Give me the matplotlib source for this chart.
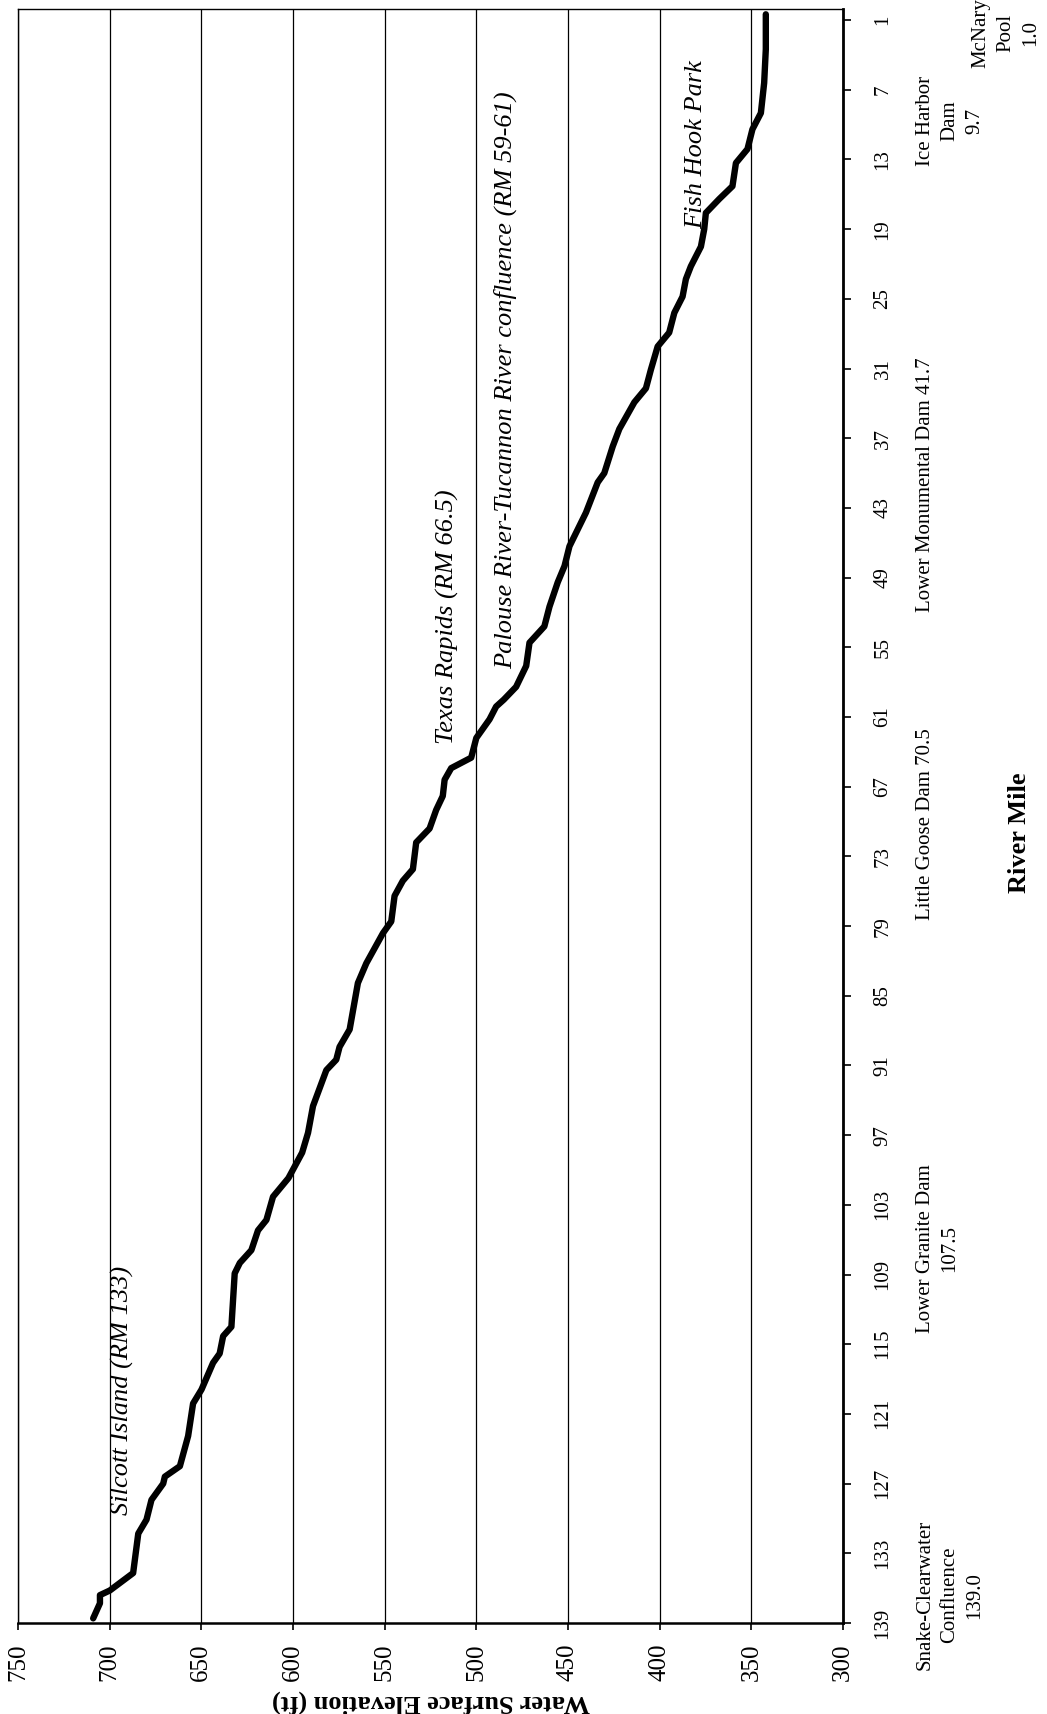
import matplotlib.pyplot as plt

plt.rcParams['font.family'] = ['Liberation Serif', 'DejaVu Serif']

# water surface profile
river_mile = [0.5, 3.5, 6.4, 9.0, 10.4, 12.1, 13.3, 15.3, 16.4, 17.6, 19.0, 20.5,
              22.2, 23.3, 24.8, 26.2, 27.9, 29.1, 31.1, 32.7, 33.9, 36.2, 37.7,
              40.0, 40.8, 43.4, 46.3, 48.0, 49.4, 51.5, 53.2, 54.6, 56.6, 58.4,
              59.5, 60.1, 61.2, 62.8, 64.5, 65.4, 66.4, 67.8, 69.0, 70.6, 71.8,
              74.1, 75.1, 76.4, 78.6, 79.6, 82.2, 83.9, 87.9, 89.4, 90.5, 91.4,
              94.5, 96.8, 98.5, 100.7, 102.3, 104.3, 105.2, 106.9, 108.0, 108.9,
              113.5, 114.3, 115.8, 116.6, 118.9, 120.1, 122.9, 125.5, 126.4, 127.0,
              128.4, 130.1, 131.3, 134.7, 136.2, 136.6, 137.3, 138.6]
elevation = [342.1, 342.1, 343.0, 344.8, 349.4, 352.1, 358.4, 360.3, 367.5, 374.8, 375.7, 377.5,
             383.0, 385.7, 387.5, 392.0, 394.8, 401.1, 404.8, 407.5, 413.8, 422.0, 425.6,
             430.2, 433.8, 440.2, 449.2, 451.9, 455.6, 460.1, 462.9, 471.0, 472.8, 478.3,
             485.0, 489.2, 492.8, 500.0, 502.8, 513.7, 517.3, 518.3, 521.9, 525.5, 532.8,
             534.6, 540.1, 544.6, 546.4, 550.9, 560.0, 564.6, 569.1, 574.6, 576.4, 581.8,
             589.1, 591.8, 595.0, 602.5, 610.9, 614.5, 619.1, 622.7, 629.0, 631.8,
             633.6, 638.1, 640.0, 643.6, 649.9, 654.5, 657.2, 661.7, 669.9, 670.8,
             677.2, 679.9, 684.4, 687.2, 699.9, 705.3, 705.3, 709.0]

elev_ticks = list(range(300, 751, 50))
mile_ticks = list(range(1, 140, 6))

sites = ["Silcott Island (RM 133)", "Texas Rapids (RM 66.5)",
         "Palouse River-Tucannon River confluence (RM 59-61)", "Fish Hook Park"]
site_elev = [693, 515.5, 484.2, 380.3]
site_mile = [129.7, 63.3, 56.9, 19.0]

dams = ["McNary\nPool\n1.0", "Ice Harbor\nDam\n9.7", "Lower Monumental Dam 41.7",
        "Little Goose Dam 70.5", "Lower Granite Dam\n107.5",
        "Snake-Clearwater\nConfluence\n139.0"]
dam_mile = [2.1, 9.7, 41.0, 70.2, 106.8, 136.6]

fig = plt.figure(figsize=(10.47, 17.14), dpi=100)
ax = fig.add_axes([18 / 1047, 1 - 1623 / 1714, 825 / 1047, (1623 - 8.5) / 1714])

ax.plot(elevation, river_mile, color='black', lw=4.6,
        solid_capstyle='round', solid_joinstyle='round')

ax.set_xlim(750, 300)
ax.set_ylim(139, 0)
ax.set_xticks(elev_ticks)
ax.set_yticks(mile_ticks)
ax.grid(axis='x', color='black', lw=0.9)
ax.yaxis.tick_right()
ax.tick_params(axis='x', direction='out', length=5, width=1.2, labelsize=18, pad=10)
ax.tick_params(axis='y', direction='out', length=6, width=1.2, labelsize=15, pad=16)
for lab in ax.get_xticklabels():
    lab.set_rotation(90)
    lab.set_rotation_mode('default')
    lab.set_ha('center')
    lab.set_va('top')
for lab in ax.get_yticklabels():
    lab.set_rotation(90)
    lab.set_rotation_mode('default')
    lab.set_ha('left')
    lab.set_va('center')

ax.spines['right'].set_linewidth(2.0)
ax.spines['bottom'].set_linewidth(1.8)
ax.spines['left'].set_linewidth(1.0)
ax.spines['top'].set_linewidth(1.0)

for name, e, m in zip(sites, site_elev, site_mile):
    ax.text(e, m, name, rotation=90, style='italic', fontsize=19,
            ha='center', va='bottom')

trans = ax.get_yaxis_transform()
for i, (name, m) in enumerate(zip(dams, dam_mile)):
    xpos = 1.156 if i == 0 else 1.088
    ax.text(xpos, m, name, transform=trans, rotation=90, fontsize=15,
            ha='left', va='center', multialignment='center', linespacing=1.42)

ax.text(1.214, 71, "River Mile", transform=trans, rotation=90, fontsize=19,
        fontweight='bold', ha='center', va='center')
fig.text(0.4112, 1 - 1702 / 1714, "Water Surface Elevation (ft)", rotation=180,
         fontsize=19, fontweight='bold', ha='center', va='center')

fig.savefig("out.png", dpi=100)
